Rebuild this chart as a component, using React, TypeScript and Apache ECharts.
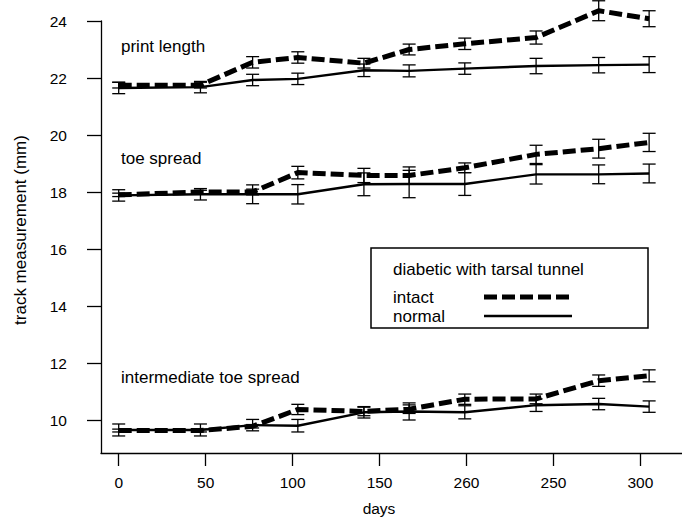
import React, { useEffect, useRef } from "react";
import * as echarts from "echarts";

const FONT = "'Liberation Sans', Arial, Helvetica, sans-serif";

// x positions (days) of the measurements
const xDays = [0, 47, 77, 103, 141, 167, 199, 240, 276, 305];

// print length
const printIntact = [21.75, 21.75, 22.55, 22.72, 22.52, 23.0, 23.2, 23.42, 24.36, 24.08];
const printIntactErr = [0.1, 0.1, 0.2, 0.2, 0.17, 0.19, 0.2, 0.23, 0.35, 0.28];
const printNormal = [21.65, 21.68, 21.93, 21.97, 22.27, 22.25, 22.33, 22.42, 22.45, 22.47];
const printNormalErr = [0.2, 0.2, 0.2, 0.2, 0.22, 0.21, 0.2, 0.27, 0.27, 0.28];

// toe spread
const toeIntact = [17.9, 18.0, 18.0, 18.68, 18.58, 18.58, 18.85, 19.32, 19.52, 19.74];
const toeIntactErr = [0.06, 0.06, 0.1, 0.22, 0.25, 0.3, 0.17, 0.32, 0.33, 0.32];
const toeNormal = [17.88, 17.92, 17.92, 17.92, 18.27, 18.28, 18.28, 18.62, 18.62, 18.65];
const toeNormalErr = [0.2, 0.2, 0.33, 0.34, 0.4, 0.48, 0.4, 0.34, 0.33, 0.33];

// intermediate toe spread
const interIntact = [9.63, 9.63, 9.78, 10.37, 10.3, 10.38, 10.73, 10.74, 11.38, 11.55];
const interIntactErr = [0.05, 0.05, 0.06, 0.18, 0.15, 0.15, 0.18, 0.17, 0.2, 0.21];
const interNormal = [9.65, 9.65, 9.82, 9.8, 10.27, 10.3, 10.27, 10.52, 10.56, 10.47];
const interNormalErr = [0.21, 0.21, 0.2, 0.22, 0.2, 0.3, 0.23, 0.22, 0.2, 0.2];

// axis ticks
const xTickValues = [0, 50, 100, 150, 200, 250, 300];
const xTickLabels = ["0", "50", "100", "150", "260", "250", "300"];
const yTickValues = [10, 12, 14, 16, 18, 20, 22, 24];

const groupLabels = ["print length", "toe spread", "intermediate toe spread"];
const legendTitle = "diabetic with tarsal tunnel";
const legendItems = ["intact", "normal"];

function lineSeries(name: string, ys: number[], dashed: boolean) {
  return {
    name,
    type: "line",
    data: xDays.map((x, i) => [x, ys[i]]),
    symbol: "none",
    showSymbol: false,
    clip: false,
    silent: true,
    z: dashed ? 3 : 2,
    lineStyle: {
      color: "#000",
      width: dashed ? 5 : 2.4,
      type: dashed ? [13, 5] : "solid",
      cap: "butt",
      join: "round",
    },
  };
}

function errSeries(ys: number[], errs: number[]) {
  return {
    type: "custom",
    data: xDays.map((x, i) => [x, ys[i], errs[i]]),
    clip: false,
    silent: true,
    z: 4,
    renderItem: (params: any, api: any) => {
      const x = api.value(0);
      const y = api.value(1);
      const e = api.value(2);
      const top = api.coord([x, y + e]);
      const bot = api.coord([x, y - e]);
      const hw = 6.5;
      const style = { stroke: "#000", lineWidth: 1.3, fill: "none" };
      return {
        type: "group",
        children: [
          { type: "line", shape: { x1: top[0], y1: top[1], x2: bot[0], y2: bot[1] }, style },
          { type: "line", shape: { x1: top[0] - hw, y1: top[1], x2: top[0] + hw, y2: top[1] }, style },
          { type: "line", shape: { x1: bot[0] - hw, y1: bot[1], x2: bot[0] + hw, y2: bot[1] }, style },
        ],
      };
    },
  };
}

export default function App() {
  const ref = useRef<HTMLDivElement>(null);
  useEffect(() => {
    if (!ref.current) return;
    const chart = echarts.init(ref.current, null, { renderer: "svg" });
    const txt = (text: string, x: number, y: number, size = 17, extra: any = {}) => ({
      type: "text",
      x,
      y,
      silent: true,
      ...extra,
      style: {
        text,
        fill: "#000",
        font: `${size}px ${FONT}`,
        textVerticalAlign: "middle",
        verticalAlign: "middle",
        ...(extra.style || {}),
      },
    });
    chart.setOption({
      animation: false,
      backgroundColor: "#fff",
      textStyle: { fontFamily: FONT },
      grid: { left: 101, top: 21, right: 0, bottom: 64, containLabel: false },
      xAxis: {
        type: "value",
        min: -10.18,
        max: 323.9,
        axisLine: { show: true, onZero: false, lineStyle: { color: "#000", width: 1.3 } },
        axisTick: { show: true, length: 13, customValues: xTickValues, lineStyle: { color: "#000", width: 1.3 } },
        axisLabel: {
          customValues: xTickValues,
          margin: 21,
          color: "#000",
          fontSize: 15.5,
          fontFamily: FONT,
          formatter: (v: number) => {
            const i = xTickValues.indexOf(v);
            return i >= 0 ? xTickLabels[i] : "";
          },
        },
        splitLine: { show: false },
      },
      yAxis: {
        type: "value",
        min: 24 - 432 / 28.5,
        max: 24,
        axisLine: { show: true, onZero: false, lineStyle: { color: "#000", width: 1.3 } },
        axisTick: { show: true, length: 14, customValues: yTickValues, lineStyle: { color: "#000", width: 1.3 } },
        axisLabel: {
          customValues: yTickValues,
          margin: 34,
          color: "#000",
          fontSize: 15.5,
          fontFamily: FONT,
        },
        splitLine: { show: false },
      },
      series: [
        lineSeries("print length normal", printNormal, false),
        lineSeries("print length intact", printIntact, true),
        lineSeries("toe spread normal", toeNormal, false),
        lineSeries("toe spread intact", toeIntact, true),
        lineSeries("intermediate normal", interNormal, false),
        lineSeries("intermediate intact", interIntact, true),
        errSeries(printNormal, printNormalErr),
        errSeries(printIntact, printIntactErr),
        errSeries(toeNormal, toeNormalErr),
        errSeries(toeIntact, toeIntactErr),
        errSeries(interNormal, interNormalErr),
        errSeries(interIntact, interIntactErr),
      ],
      graphic: [
        txt(groupLabels[0], 121, 46.5),
        txt(groupLabels[1], 121, 158.5),
        txt(groupLabels[2], 121, 377.5),
        txt("days", 379, 508.5, 15.5, { style: { textAlign: "center", align: "center" } }),
        txt("track measurement (mm)", 20, 230, 17, {
          rotation: Math.PI / 2,
          style: { textAlign: "center", align: "center" },
        }),
        {
          type: "rect",
          silent: true,
          shape: { x: 371, y: 248, width: 277, height: 80 },
          style: { fill: "#fff", stroke: "#000", lineWidth: 1.5 },
        },
        txt(legendTitle, 393, 269),
        txt(legendItems[0], 393, 297),
        txt(legendItems[1], 393, 316),
        {
          type: "line",
          silent: true,
          shape: { x1: 484, y1: 297, x2: 572, y2: 297 },
          style: { stroke: "#000", lineWidth: 5, lineDash: [13, 5], lineCap: "butt" },
        },
        {
          type: "line",
          silent: true,
          shape: { x1: 484, y1: 316, x2: 572, y2: 316 },
          style: { stroke: "#000", lineWidth: 2.4 },
        },
      ],
    });
    return () => chart.dispose();
  }, []);
  return (
    <div
      ref={ref}
      style={{ position: "fixed", left: 0, top: 0, width: 682, height: 517, background: "#fff" }}
    />
  );
}
